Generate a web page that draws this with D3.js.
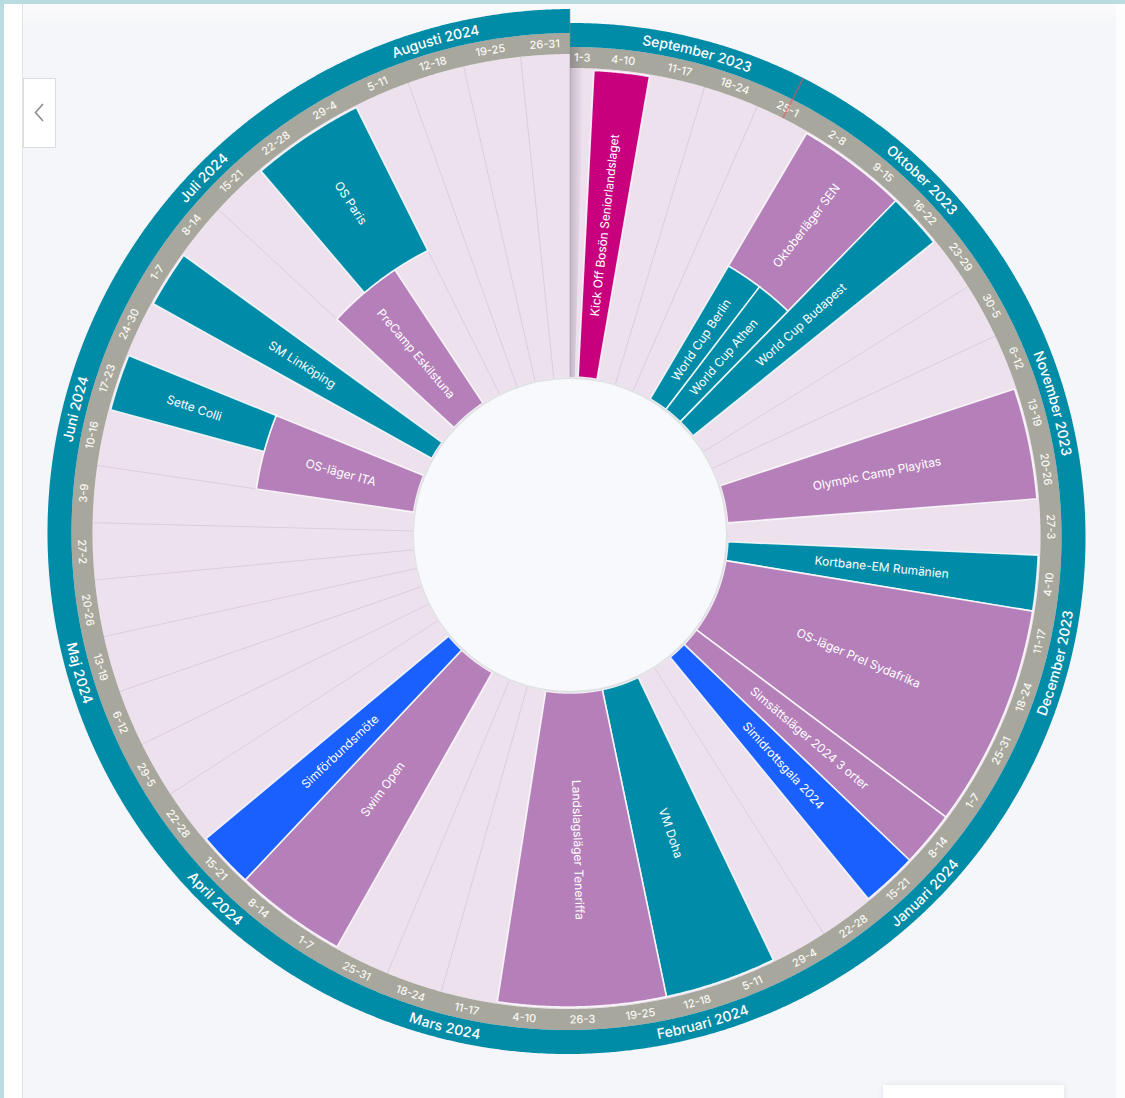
<!DOCTYPE html>
<html>
<head>
<meta charset="utf-8">
<script src="https://cdn.jsdelivr.net/npm/d3@7"></script>
<style>
  html, body { margin: 0; padding: 0; background: #fdfdfe; overflow: hidden; }
  svg { display: block; font-family: Inter, "Noto Sans", sans-serif; }
</style>
</head>
<body>
<script>
"use strict";

// season shown on the disc
var seasonStart = "2023-09-01";
var seasonEnd = "2024-09-01";
var today = "2023-09-28";

var monthNames = ["September 2023", "Oktober 2023", "November 2023", "December 2023",
                  "Januari 2024", "Februari 2024", "Mars 2024", "April 2024",
                  "Maj 2024", "Juni 2024", "Juli 2024", "Augusti 2024"];

var weekLabels = ["1-3", "4-10", "11-17", "18-24", "25-1",
                  "2-8", "9-15", "16-22", "23-29", "30-5",
                  "6-12", "13-19", "20-26", "27-3",
                  "4-10", "11-17", "18-24", "25-31",
                  "1-7", "8-14", "15-21", "22-28", "29-4",
                  "5-11", "12-18", "19-25", "26-3",
                  "4-10", "11-17", "18-24", "25-31",
                  "1-7", "8-14", "15-21", "22-28", "29-5",
                  "6-12", "13-19", "20-26", "27-2",
                  "3-9", "10-16", "17-23", "24-30",
                  "1-7", "8-14", "15-21", "22-28", "29-4",
                  "5-11", "12-18", "19-25", "26-31"];

var eventNames = ["Kick Off Bosön Seniorlandslaget", "Oktoberläger SEN", "World Cup Berlin",
                  "World Cup Athen", "World Cup Budapest", "Olympic Camp Playitas",
                  "Kortbane-EM Rumänien", "OS-läger Prel Sydafrika", "Simsättsläger 2024 3 orter",
                  "Simidrottsgala 2024", "VM Doha", "Landslagsläger Teneriffa",
                  "Swim Open", "Simförbundsmöte", "OS-läger ITA", "Sette Colli",
                  "SM Linköping", "PreCamp Eskilstuna", "OS Paris"];
var eventStarts = ["2023-09-04", "2023-10-02", "2023-10-02", "2023-10-09", "2023-10-16", "2023-11-13",
                   "2023-12-04", "2023-12-11", "2024-01-08", "2024-01-15", "2024-02-05", "2024-02-19",
                   "2024-04-01", "2024-04-15", "2024-06-10", "2024-06-17", "2024-07-01", "2024-07-15",
                   "2024-07-22"];
var eventEnds = ["2023-09-10", "2023-10-15", "2023-10-08", "2023-10-15", "2023-10-22", "2023-11-26",
                 "2023-12-10", "2024-01-07", "2024-01-14", "2024-01-21", "2024-02-18", "2024-03-10",
                 "2024-04-14", "2024-04-21", "2024-06-23", "2024-06-23", "2024-07-07", "2024-07-28",
                 "2024-08-04"];
var eventKinds = ["kickoff", "camp", "competition", "competition", "competition", "camp",
                  "competition", "camp", "camp", "meeting", "competition", "camp",
                  "camp", "meeting", "camp", "competition", "competition", "camp",
                  "competition"];
var eventLanes = ["full", "outer", "inner", "inner", "full", "full",
                  "full", "full", "full", "full", "full", "full",
                  "full", "full", "inner", "outer", "full", "inner",
                  "outer"];

//
/* Layout */
//
var width = 1125;
var height = 1098;
var cx = 570, cy = 535;
var centerRadius = 157;
var spiralGrowth = 14;

var kindColor = d3.scaleOrdinal()
        .domain(["competition", "camp", "kickoff", "meeting"])
        .range(["#008ca8", "#b580b9", "#c8007e", "#1a60ff"]);

var parse = d3.utcParse("%Y-%m-%d");
var t0 = parse(seasonStart), t1 = parse(seasonEnd);
var angle = d3.scaleUtc().domain([t0, t1]).range([0, 2 * Math.PI]);

function grow(a) { return spiralGrowth * a / (2 * Math.PI); }
function rLavender(a) { return 467 + grow(a); }
function rEventOut(a) { return 465 + grow(a); }
function rWeekOut(a) { return 488 + grow(a); }
function rMonthOut(a) { return 512 + grow(a); }
function rEventIn() { return centerRadius + 1; }
function rSplit(a) { return (rEventIn() + rEventOut(a)) / 2; }

function band(a0, a1, rIn, rOut)
{
    var n = Math.max(2, Math.ceil((a1 - a0) / 0.004));
    var pts = d3.range(n + 1).map(function(i) { return a0 + (a1 - a0) * i / n; });
    return d3.areaRadial()
        .angle(function(a) { return a; })
        .innerRadius(function(a) { return rIn(a); })
        .outerRadius(function(a) { return rOut(a); })(pts);
}

function deg(a) { return a * 180 / Math.PI; }
function polar(a, r) { return [r * Math.sin(a), -r * Math.cos(a)]; }

var svg = d3.select("body").append("svg")
        .attr("width", width)
        .attr("height", height)
        .attr("viewBox", "0 0 " + width + " " + height);

var defs = svg.append("defs");

var panelGrad = defs.append("linearGradient").attr("id", "panelTop")
        .attr("x1", 0).attr("y1", 0).attr("x2", 0).attr("y2", 1);
panelGrad.append("stop").attr("offset", 0).attr("stop-color", "#fbfbfc");
panelGrad.append("stop").attr("offset", 1).attr("stop-color", "#f5f6fa");

var seamGrad = defs.append("linearGradient").attr("id", "seamShadow")
        .attr("gradientUnits", "userSpaceOnUse")
        .attr("x1", 0).attr("y1", 0).attr("x2", 13).attr("y2", 0);
seamGrad.append("stop").attr("offset", 0).attr("stop-color", "#5a4a66").attr("stop-opacity", 0.28);
seamGrad.append("stop").attr("offset", 1).attr("stop-color", "#5a4a66").attr("stop-opacity", 0);

var boxShadow = defs.append("filter").attr("id", "boxShadow")
        .attr("x", "-10%").attr("y", "-50%").attr("width", "120%").attr("height", "200%");
boxShadow.append("feDropShadow").attr("dx", 0).attr("dy", 0).attr("stdDeviation", 3)
        .attr("flood-color", "#000").attr("flood-opacity", 0.08);

//
/* Page frame */
//
svg.append("rect").attr("width", width).attr("height", height).attr("fill", "#fdfdfe");
svg.append("rect").attr("x", 4).attr("y", 4).attr("width", 18).attr("height", height).attr("fill", "#ffffff");
svg.append("rect").attr("x", 23).attr("y", 4).attr("width", 1093).attr("height", height).attr("fill", "#f5f6fa");
svg.append("rect").attr("x", 23).attr("y", 4).attr("width", 1093).attr("height", 24).attr("fill", "url(#panelTop)");
svg.append("line").attr("x1", 22.5).attr("x2", 22.5).attr("y1", 4).attr("y2", height)
        .attr("stroke", "#e2e3e7").attr("stroke-width", 1);
svg.append("rect").attr("x", 0).attr("y", 0).attr("width", width).attr("height", 4).attr("fill", "#b8dcdf");
svg.append("rect").attr("x", 0).attr("y", 0).attr("width", 4).attr("height", height).attr("fill", "#b8dcdf");

svg.append("rect").attr("x", 23.5).attr("y", 78.5).attr("width", 32).attr("height", 69)
        .attr("fill", "#ffffff").attr("stroke", "#dcdde1").attr("stroke-width", 1);
svg.append("path").attr("d", "M43,104 L35.5,112.5 L43,121")
        .attr("fill", "none").attr("stroke", "#8b8e96").attr("stroke-width", 1.6);

svg.append("rect").attr("x", 883).attr("y", 1085).attr("width", 181).attr("height", 30)
        .attr("fill", "#ffffff").attr("filter", "url(#boxShadow)");

//
/* Disc */
//
var disc = svg.append("g").attr("transform", "translate(" + cx + "," + cy + ")");

var weekBounds = [t0].concat(d3.utcMonday.range(t0, t1)).concat([t1]);
var weeks = weekLabels.map(function(label, i)
{
    return {label: label, a0: angle(weekBounds[i]), a1: angle(weekBounds[i + 1])};
});

var monthBounds = d3.utcMonth.range(t0, t1).concat([t1]);
var months = monthNames.map(function(name, i)
{
    return {name: name, a0: angle(monthBounds[i]), a1: angle(monthBounds[i + 1])};
});

var fullTurn = [{a0: angle(t0), a1: angle(t1)}];

// lavender background + week dividers
disc.append("g").selectAll("path")
    .data(fullTurn)
    .enter()
    .append("path")
    .attr("d", function(d) { return band(d.a0, d.a1, rEventIn, rLavender); })
    .attr("fill", "#eee1ee");

disc.append("g").selectAll("line")
    .data(weeks.slice(1))
    .enter()
    .append("line")
    .attr("x1", function(d) { return polar(d.a0, centerRadius)[0]; })
    .attr("y1", function(d) { return polar(d.a0, centerRadius)[1]; })
    .attr("x2", function(d) { return polar(d.a0, rLavender(d.a0))[0]; })
    .attr("y2", function(d) { return polar(d.a0, rLavender(d.a0))[1]; })
    .attr("stroke", "#dacdde")
    .attr("stroke-width", 1);

// week ring and month ring
disc.append("g").selectAll("path")
    .data(fullTurn)
    .enter()
    .append("path")
    .attr("d", function(d) { return band(d.a0, d.a1, rLavender, rWeekOut); })
    .attr("fill", "#a8a79d");

disc.append("g").selectAll("path")
    .data(fullTurn)
    .enter()
    .append("path")
    .attr("d", function(d) { return band(d.a0, d.a1, rWeekOut, rMonthOut); })
    .attr("fill", "#008ba7");

// seam where the season wraps
disc.append("path")
    .attr("d", band(0, 0.03, rEventIn, rWeekOut))
    .attr("fill", "url(#seamShadow)");
disc.append("line")
    .attr("x1", 0).attr("x2", 0)
    .attr("y1", -centerRadius).attr("y2", -rMonthOut(2 * Math.PI))
    .attr("stroke", "#8f8a93").attr("stroke-opacity", 0.45).attr("stroke-width", 1);

// week labels
disc.append("g").selectAll("text")
    .data(weeks)
    .enter()
    .append("text")
    .attr("transform", function(d)
    {
        var a = (d.a0 + d.a1) / 2;
        var p = polar(a, (rLavender(a) + rWeekOut(a)) / 2);
        var rot = deg(a);
        if (rot > 90 && rot < 270) rot -= 180;
        return "translate(" + p[0] + "," + p[1] + ") rotate(" + rot + ")";
    })
    .attr("text-anchor", "middle")
    .attr("dy", "0.35em")
    .attr("font-size", 11)
    .attr("font-weight", 500)
    .attr("fill", "#f8f8f3")
    .text(function(d) { return d.label; });

// month labels along the ring
months.forEach(function(d, i)
{
    var mid = (d.a0 + d.a1) / 2;
    var flip = deg(mid) > 90 && deg(mid) < 270;
    var pts = d3.range(41).map(function(k) { return mid - 0.35 + 0.7 * k / 40; });
    if (flip) pts.reverse();
    var pathD = d3.lineRadial()
        .angle(function(a) { return a; })
        .radius(function(a) { return (rWeekOut(a) + rMonthOut(a)) / 2; })(pts);
    defs.append("path").attr("id", "monthPath" + i).attr("d", pathD);
});

disc.append("g").selectAll("text")
    .data(months)
    .enter()
    .append("text")
    .attr("dy", "0.36em")
    .attr("font-size", 14)
    .attr("font-weight", 500)
    .attr("fill", "#ffffff")
    .append("textPath")
    .attr("href", function(d, i) { return "#monthPath" + i; })
    .attr("startOffset", "50%")
    .attr("text-anchor", "middle")
    .text(function(d) { return d.name; });

// today marker
var aToday = angle(d3.utcHour.offset(parse(today), 12));
disc.append("line")
    .attr("x1", polar(aToday, rLavender(aToday))[0])
    .attr("y1", polar(aToday, rLavender(aToday))[1])
    .attr("x2", polar(aToday, rMonthOut(aToday))[0])
    .attr("y2", polar(aToday, rMonthOut(aToday))[1])
    .attr("stroke", "#e8555a")
    .attr("stroke-opacity", 0.6)
    .attr("stroke-width", 1.5);

// events
var events = eventNames.map(function(name, i)
{
    return {
        name: name,
        a0: angle(parse(eventStarts[i])),
        a1: angle(d3.utcDay.offset(parse(eventEnds[i]), 1)),
        kind: eventKinds[i],
        lane: eventLanes[i]
    };
});

function laneIn(lane) { return lane === "outer" ? rSplit : rEventIn; }
function laneOut(lane) { return lane === "inner" ? rSplit : rEventOut; }

var eventGroup = disc.append("g").attr("class", "events");

eventGroup.selectAll("path")
    .data(events)
    .enter()
    .append("path")
    .attr("d", function(d) { return band(d.a0, d.a1, laneIn(d.lane), laneOut(d.lane)); })
    .attr("fill", function(d) { return kindColor(d.kind); })
    .attr("stroke", "#ffffff")
    .attr("stroke-opacity", 0.85)
    .attr("stroke-width", 1.6);

eventGroup.selectAll("text")
    .data(events)
    .enter()
    .append("text")
    .attr("transform", function(d)
    {
        var a = (d.a0 + d.a1) / 2;
        var r = (laneIn(d.lane)(a) + laneOut(d.lane)(a)) / 2;
        var p = polar(a, r);
        var rot = deg(a) < 180 ? deg(a) - 90 : deg(a) + 90;
        return "translate(" + p[0] + "," + p[1] + ") rotate(" + rot + ")";
    })
    .attr("text-anchor", "middle")
    .attr("dy", "0.35em")
    .attr("font-size", 12)
    .attr("fill", "#ffffff")
    .text(function(d) { return d.name; });

// centre hub
disc.append("circle")
    .attr("r", centerRadius)
    .attr("fill", "#f8f9fc")
    .attr("stroke", "#e1e1e6")
    .attr("stroke-width", 2);
</script>
</body>
</html>
